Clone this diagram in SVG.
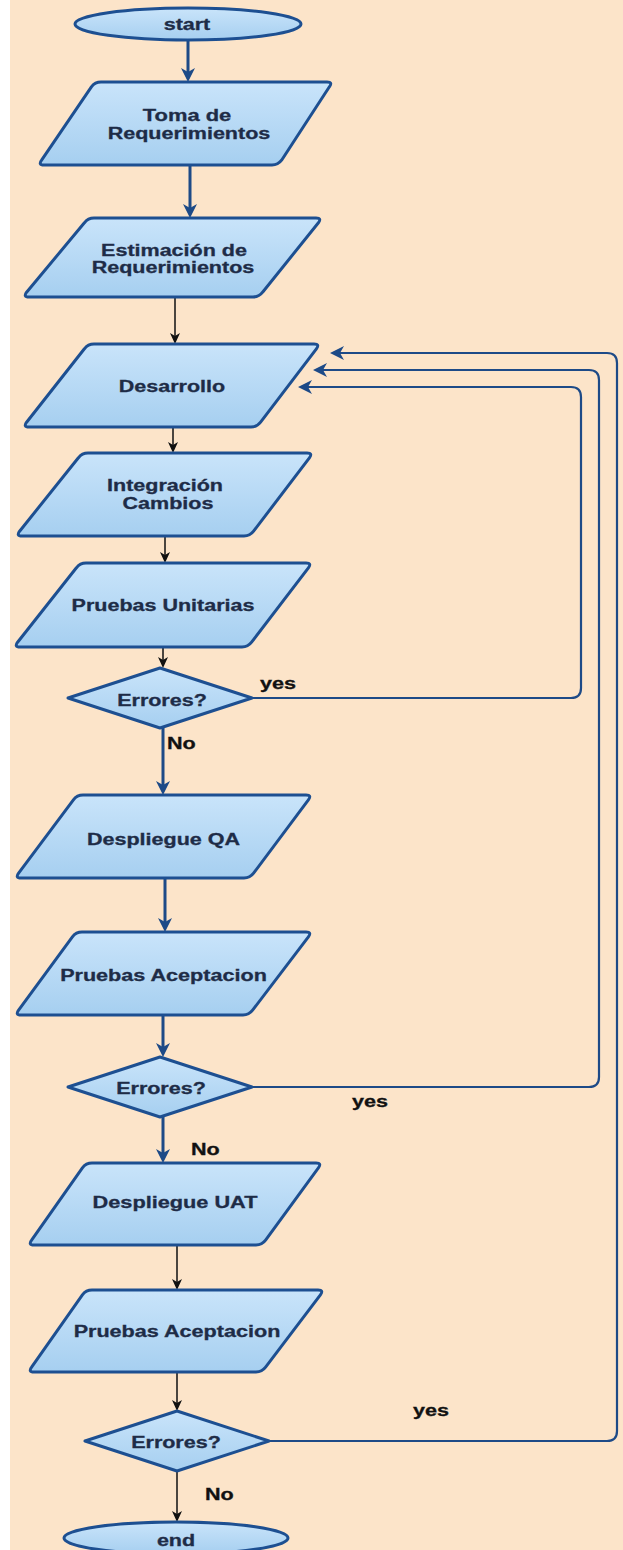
<svg xmlns="http://www.w3.org/2000/svg" width="623" height="1550" viewBox="0 0 623 1550">
  <style>
    .node { fill: url(#nodeFill); stroke: #1d4f91; stroke-width: 3; stroke-linejoin: round; }
    .label { font-family: "Liberation Sans", Arial, sans-serif; font-size: 16px; font-weight: bold; fill: #1e2c47; stroke: #1e2c47; stroke-width: 0.3; text-anchor: middle; }
    .edge-label { font-family: "Liberation Sans", Arial, sans-serif; font-size: 16px; font-weight: bold; fill: #111111; stroke: #111111; stroke-width: 0.3; }
    .thick { fill: none; stroke: #1d4a87; stroke-width: 3; marker-end: url(#ahBlue); }
    .thin { fill: none; stroke: #111111; stroke-width: 1.5; marker-end: url(#ahBlack); }
    .loop { fill: none; stroke: #1d4a87; stroke-width: 2.2; marker-end: url(#ahBlue); }
  </style>
  <defs>
    <linearGradient id="nodeFill" x1="0" y1="0" x2="0" y2="1">
      <stop offset="0" stop-color="#c9e4fa"/>
      <stop offset="1" stop-color="#a6cff0"/>
    </linearGradient>
    <marker id="ahBlue" markerUnits="userSpaceOnUse" markerWidth="16" markerHeight="14" refX="4" refY="7" orient="auto">
      <path d="M0,0 L14,7 L0,14 L4,7 Z" fill="#1d4a87"/>
    </marker>
    <marker id="ahBlack" markerUnits="userSpaceOnUse" markerWidth="12" markerHeight="10" refX="3" refY="5" orient="auto">
      <path d="M0,0 L11,5 L0,10 L3,5 Z" fill="#111111"/>
    </marker>
  </defs>

  <!-- page -->
  <rect x="0" y="0" width="623" height="1550" fill="#ffffff"/>
  <rect x="10" y="0" width="613" height="1550" fill="#fce4c9"/>

  <!-- connectors -->
  <g id="connectors">
    <path class="thick" d="M188,40 V72"/>
    <path class="thick" d="M190,165 V208"/>
    <path class="thin" d="M175,297 V336"/>
    <path class="thin" d="M173,427 V445"/>
    <path class="thin" d="M165,537 V555"/>
    <path class="thin" d="M163,647 V660"/>
    <path class="thick" d="M163,728 V785"/>
    <path class="thick" d="M165,878 V922"/>
    <path class="thick" d="M163,1015 V1047"/>
    <path class="thick" d="M163,1117 V1153"/>
    <path class="thin" d="M177,1245 V1282"/>
    <path class="thin" d="M177,1372 V1403"/>
    <path class="thin" d="M177,1471 V1514"/>
    <!-- return paths back to Desarrollo -->
    <path class="loop" d="M252,698 H571 Q581,698 581,688 V397 Q581,387 571,387 H308"/>
    <path class="loop" d="M252,1087 H589 Q599,1087 599,1077 V380 Q599,370 589,370 H323"/>
    <path class="loop" d="M269,1441 H607 Q617,1441 617,1431 V363 Q617,353 607,353 H340"/>
    <text class="edge-label" x="260" y="689" textLength="35.9" lengthAdjust="spacingAndGlyphs">yes</text>
    <text class="edge-label" x="167" y="749" textLength="28.7" lengthAdjust="spacingAndGlyphs">No</text>
    <text class="edge-label" x="352" y="1107" textLength="35.9" lengthAdjust="spacingAndGlyphs">yes</text>
    <text class="edge-label" x="191" y="1155" textLength="28.7" lengthAdjust="spacingAndGlyphs">No</text>
    <text class="edge-label" x="413" y="1416" textLength="35.9" lengthAdjust="spacingAndGlyphs">yes</text>
    <text class="edge-label" x="205" y="1500" textLength="28.7" lengthAdjust="spacingAndGlyphs">No</text>
  </g>

  <g id="start">
    <ellipse class="node" cx="188" cy="24" rx="113" ry="16"/>
    <text class="label" x="187" y="30" textLength="46.6" lengthAdjust="spacingAndGlyphs">start</text>
  </g>

  <g id="toma">
    <path class="node" d="M101,82 H327 Q333,82 329.4,86.8 L281.6,160.2 Q278,165 272,165 H44 Q38,165 41.6,160.2 L91.4,86.8 Q95,82 101,82 Z"/>
    <text class="label" x="187" y="121" textLength="88.4" lengthAdjust="spacingAndGlyphs">Toma de</text>
    <text class="label" x="189" y="138.5" textLength="162.5" lengthAdjust="spacingAndGlyphs">Requerimientos</text>
  </g>

  <g id="estimacion">
    <path class="node" d="M94,218 H316 Q322,218 318.4,222.8 L262.6,292.2 Q259,297 253,297 H29 Q23,297 26.6,292.2 L84.4,222.8 Q88,218 94,218 Z"/>
    <text class="label" x="174" y="256" textLength="145.8" lengthAdjust="spacingAndGlyphs">Estimación de</text>
    <text class="label" x="173" y="273" textLength="162.5" lengthAdjust="spacingAndGlyphs">Requerimientos</text>
  </g>

  <g id="desarrollo">
    <path class="node" d="M94,344 H314 Q320,344 316.4,348.8 L260.6,422.2 Q257,427 251,427 H29 Q23,427 26.6,422.2 L84.4,348.8 Q88,344 94,344 Z"/>
    <text class="label" x="172" y="392" textLength="106.3" lengthAdjust="spacingAndGlyphs">Desarrollo</text>
  </g>

  <g id="integracion">
    <path class="node" d="M88,453 H307 Q313,453 309.4,457.8 L253.6,531.2 Q250,536 244,536 H22 Q16,536 19.6,531.2 L78.4,457.8 Q82,453 88,453 Z"/>
    <text class="label" x="165" y="491" textLength="115.9" lengthAdjust="spacingAndGlyphs">Integración</text>
    <text class="label" x="168" y="508.5" textLength="90.8" lengthAdjust="spacingAndGlyphs">Cambios</text>
  </g>

  <g id="pruebas-unitarias">
    <path class="node" d="M86,563 H306 Q312,563 308.4,567.8 L251.6,642.2 Q248,647 242,647 H20 Q14,647 17.6,642.2 L76.4,567.8 Q80,563 86,563 Z"/>
    <text class="label" x="163" y="611" textLength="182.8" lengthAdjust="spacingAndGlyphs">Pruebas Unitarias</text>
  </g>

  <g id="errores-1">
    <polygon class="node" points="160,668 252,698 160,728 68,698"/>
    <text class="label" x="162" y="706" textLength="89.6" lengthAdjust="spacingAndGlyphs">Errores?</text>
  </g>

  <g id="despliegue-qa">
    <path class="node" d="M83,795 H306 Q312,795 308.4,799.8 L253.6,873.2 Q250,878 244,878 H21 Q15,878 18.6,873.2 L73.4,799.8 Q77,795 83,795 Z"/>
    <text class="label" x="163.5" y="844.5" textLength="152.9" lengthAdjust="spacingAndGlyphs">Despliegue QA</text>
  </g>

  <g id="pruebas-aceptacion-qa">
    <path class="node" d="M82,932 H306 Q312,932 308.4,936.8 L252.6,1010.2 Q249,1015 243,1015 H21 Q15,1015 18.6,1010.2 L72.4,936.8 Q76,932 82,932 Z"/>
    <text class="label" x="163.5" y="980.5" textLength="206.7" lengthAdjust="spacingAndGlyphs">Pruebas Aceptacion</text>
  </g>

  <g id="errores-2">
    <polygon class="node" points="160,1057 252,1087 160,1117 68,1087"/>
    <text class="label" x="161" y="1094" textLength="89.6" lengthAdjust="spacingAndGlyphs">Errores?</text>
  </g>

  <g id="despliegue-uat">
    <path class="node" d="M92,1163 H316 Q322,1163 318.4,1167.8 L265.6,1240.2 Q262,1245 256,1245 H34 Q28,1245 31.6,1240.2 L82.4,1167.8 Q86,1163 92,1163 Z"/>
    <text class="label" x="175" y="1208" textLength="164.9" lengthAdjust="spacingAndGlyphs">Despliegue UAT</text>
  </g>

  <g id="pruebas-aceptacion-uat">
    <path class="node" d="M92,1290 H318 Q324,1290 320.4,1294.8 L265.6,1367.2 Q262,1372 256,1372 H34 Q28,1372 31.6,1367.2 L82.4,1294.8 Q86,1290 92,1290 Z"/>
    <text class="label" x="177" y="1337" textLength="206.7" lengthAdjust="spacingAndGlyphs">Pruebas Aceptacion</text>
  </g>

  <g id="errores-3">
    <polygon class="node" points="177,1411 269,1441 177,1471 85,1441"/>
    <text class="label" x="176" y="1448" textLength="89.6" lengthAdjust="spacingAndGlyphs">Errores?</text>
  </g>

  <g id="end">
    <ellipse class="node" cx="176" cy="1538" rx="112" ry="16"/>
    <text class="label" x="176" y="1545.5" textLength="38.2" lengthAdjust="spacingAndGlyphs">end</text>
  </g>
</svg>
